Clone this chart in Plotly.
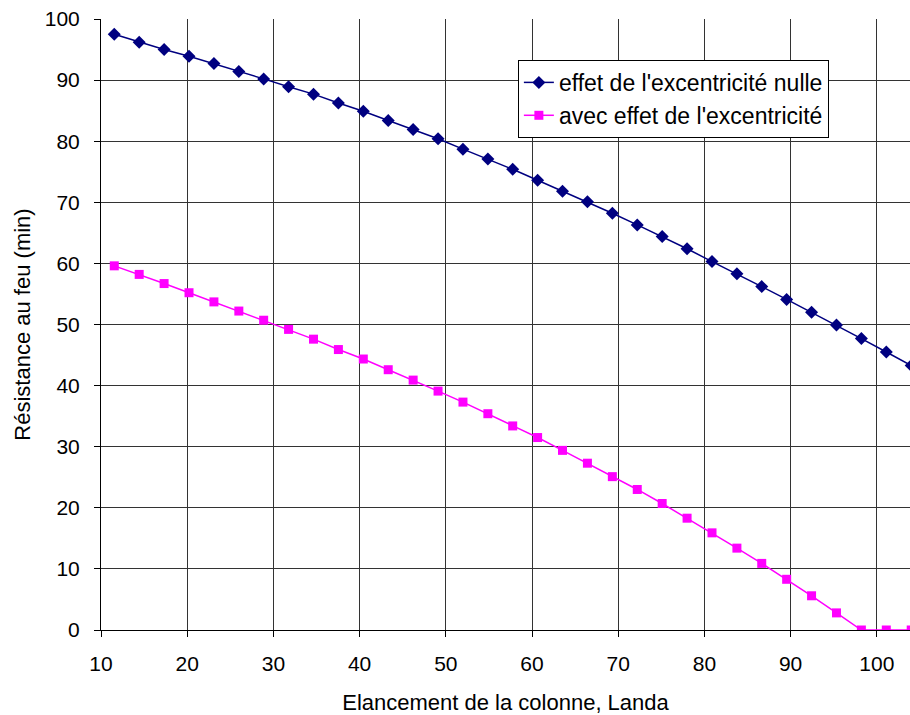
import plotly.graph_objects as go

# Elancement (Landa) values of the computed points
landa = [11.54, 14.43, 17.32, 20.21, 23.10, 25.99, 28.87, 31.76, 34.65, 37.54,
         40.43, 43.32, 46.21, 49.10, 51.99, 54.88, 57.76, 60.65, 63.54, 66.43,
         69.32, 72.21, 75.10, 77.99, 80.88, 83.77, 86.65, 89.54, 92.43, 95.32,
         98.21, 101.10, 103.99]

# Résistance au feu (min)
sans_excentricite = [97.5, 96.2, 95.0, 93.9, 92.7, 91.4, 90.2, 88.9, 87.7, 86.25,
                     84.9, 83.4, 81.9, 80.4, 78.7, 77.1, 75.4, 73.6, 71.8, 70.1,
                     68.2, 66.3, 64.4, 62.4, 60.3, 58.3, 56.2, 54.1, 52.0, 49.9,
                     47.7, 45.5, 43.3]
avec_excentricite = [59.6, 58.2, 56.7, 55.2, 53.7, 52.2, 50.7, 49.2, 47.6, 45.9,
                     44.35, 42.6, 40.9, 39.1, 37.3, 35.4, 33.4, 31.5, 29.4, 27.3,
                     25.1, 23.0, 20.7, 18.3, 15.9, 13.4, 10.9, 8.3, 5.6, 2.8,
                     0, 0, 0]

font = "Liberation Sans, Arial, sans-serif"

fig = go.Figure()
fig.add_trace(go.Scatter(x=landa, y=sans_excentricite, mode="lines+markers",
                         name="effet de l'excentricité nulle",
                         line=dict(color="#000080", width=1.5),
                         marker=dict(symbol="diamond", size=10, color="#000080")))
fig.add_trace(go.Scatter(x=landa, y=avec_excentricite, mode="lines+markers",
                         name="avec effet de l'excentricité",
                         line=dict(color="#FF00FF", width=1.5),
                         marker=dict(symbol="square", size=9, color="#FF00FF")))

axis_common = dict(showgrid=True, gridcolor="#333333", gridwidth=1,
                   showline=True, linecolor="black", linewidth=1,
                   ticks="outside", ticklen=6, tickcolor="black",
                   zeroline=False, ticklabeloverflow="allow",
                   tickfont=dict(size=21, color="black", family=font))

# the chart runs up to the right edge of the window, as in the original
fig.update_xaxes(range=[10, 103.85], dtick=10, tick0=10,
                 title=dict(text="Elancement de la colonne, Landa",
                            font=dict(size=22, color="black", family=font), standoff=22),
                 ticklabelstandoff=9, **axis_common)
fig.update_yaxes(range=[0, 100], dtick=10,
                 title=dict(text="Résistance au feu (min)",
                            font=dict(size=22, color="black", family=font), standoff=8),
                 ticklabelstandoff=10, **axis_common)

fig.update_layout(
    width=910, height=715,
    margin=dict(l=101, r=0, t=19, b=85),
    plot_bgcolor="white", paper_bgcolor="white",
    font=dict(family=font, color="black"),
    legend=dict(x=0.5153, y=0.933, xanchor="left", yanchor="top",
                bgcolor="white", bordercolor="black", borderwidth=1,
                font=dict(size=23, family=font, color="black")),
)

# drop the default page margin so the 910x715 figure fills the window
fig.write_html("out.html", config={"displayModeBar": False},
               post_script="document.body.style.margin = '0';")
